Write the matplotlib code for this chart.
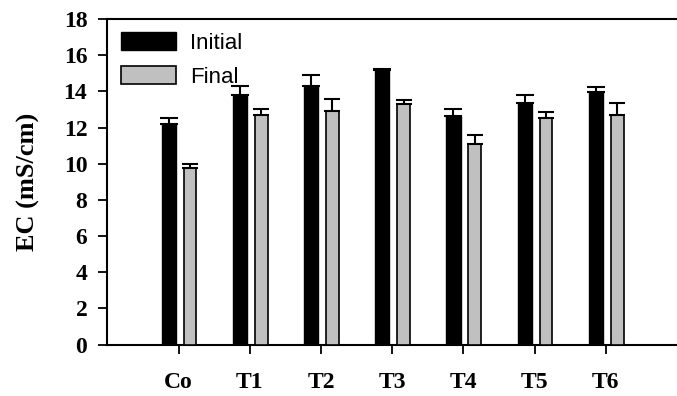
import matplotlib
matplotlib.use("Agg")
import matplotlib.pyplot as plt
import numpy as np

categories = ["Co", "T1", "T2", "T3", "T4", "T5", "T6"]
initial = [12.2, 13.8, 14.3, 15.2, 12.65, 13.35, 13.95]
initial_err = [0.35, 0.5, 0.6, 0.02, 0.35, 0.45, 0.28]
final = [9.75, 12.7, 12.9, 13.3, 11.1, 12.55, 12.7]
final_err = [0.25, 0.35, 0.7, 0.2, 0.5, 0.3, 0.65]
yticks = [0, 2, 4, 6, 8, 10, 12, 14, 16, 18]

fig = plt.figure(figsize=(6.77, 3.96), dpi=100)
ax = fig.add_axes([0.1587, 0.130, 0.8413, 0.822])

x = np.arange(len(categories))
w = 0.2
ax.bar(x - 0.14, initial, w, color="black", edgecolor="black", linewidth=1.0,
       yerr=[np.zeros(len(initial)), initial_err], capsize=6.5,
       error_kw=dict(elinewidth=1.5, capthick=1.5, ecolor="black"), label="Initial", zorder=3)
ax.bar(x + 0.16, final, w * 0.9, color="#c0c0c0", edgecolor="black", linewidth=1.2,
       yerr=[np.zeros(len(final)), final_err], capsize=6.0,
       error_kw=dict(elinewidth=1.5, capthick=1.5, ecolor="black"), label="Final", zorder=3)

ax.set_xlim(-1, 7)
ax.set_ylim(0, 18)
ax.set_yticks(yticks)
ax.set_xticks(x)
ax.set_xticklabels(categories)

serif = ["Liberation Serif", "DejaVu Serif"]
for lab in ax.get_xticklabels() + ax.get_yticklabels():
    lab.set_fontfamily(serif)
    lab.set_fontweight("bold")
    lab.set_fontsize(17)

ax.set_ylabel("EC (mS/cm)", fontfamily=serif, fontweight="bold", fontsize=19, labelpad=17)

ax.spines["right"].set_visible(False)
for s in ["left", "bottom", "top"]:
    ax.spines[s].set_linewidth(1.5)
ax.tick_params(axis="both", direction="out", length=6.5, width=1.3)
ax.tick_params(axis="x", pad=13)
ax.tick_params(axis="y", pad=8)

leg = ax.legend(loc="upper left", frameon=False, prop={"family": ["Liberation Sans"], "size": 16},
                handlelength=2.5, handleheight=0.85, handletextpad=0.6, labelspacing=0.55,
                borderaxespad=0.2, bbox_to_anchor=(0.0, 1.0))

fig.savefig("out.png", dpi=100)
